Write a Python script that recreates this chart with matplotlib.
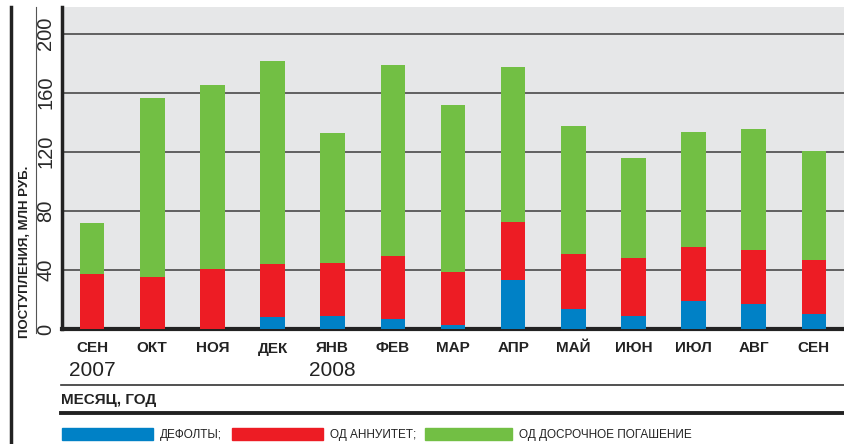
import matplotlib.pyplot as plt
from matplotlib.lines import Line2D
from matplotlib.patches import Rectangle

months = ["СЕН", "ОКТ", "НОЯ", "ДЕК", "ЯНВ", "ФЕВ", "МАР", "АПР", "МАЙ", "ИЮН", "ИЮЛ", "АВГ", "СЕН"]
years = {0: "2007", 4: "2008"}

# values, mln rub
defaults = [0, 0, 0, 8.1, 9.0, 6.8, 2.7, 33.2, 13.6, 9.0, 19.0, 17.0, 10.2]
annuity_top = [37.3, 35.3, 40.7, 44.1, 44.7, 49.5, 38.6, 72.5, 50.8, 48.1, 55.6, 53.6, 46.8]
total = [71.9, 156.6, 165.4, 181.7, 132.9, 179.0, 151.9, 177.6, 137.6, 115.9, 133.6, 135.6, 120.7]

annuity = [a - d for a, d in zip(annuity_top, defaults)]
prepay = [t - a for t, a in zip(total, annuity_top)]

labels = ["ДЕФОЛТЫ;", "ОД АННУИТЕТ;", "ОД ДОСРОЧНОЕ ПОГАШЕНИЕ"]
colors = ["#0081c6", "#ed1c24", "#72bf44"]

plt.rcParams['font.family'] = ['Liberation Sans Narrow', 'Liberation Sans', 'DejaVu Sans']

W, H = 844, 444
fig = plt.figure(figsize=(W / 100, H / 100), dpi=100)
ax = fig.add_axes([62 / W, (H - 329) / H, 1 - 62 / W, (329 - 7) / H])
ax.set_facecolor("#e6e7e8")

x = list(range(len(months)))
bw = 0.41
ax.bar(x, defaults, bw, color=colors[0], zorder=3)
ax.bar(x, annuity, bw, bottom=defaults, color=colors[1], zorder=3)
ax.bar(x, prepay, bw, bottom=annuity_top, color=colors[2], zorder=3)

ax.set_xlim(-0.5, len(months) - 0.5)
ax.set_ylim(0, 218)
ax.set_yticks([0, 40, 80, 120, 160, 200])
ax.set_yticklabels(["0", "40", "80", "120", "160", "200"], rotation=90, va="center",
                   fontsize=14.5, color="#2a2a2a")
ax.yaxis.grid(True, color="#555555", lw=1.3, zorder=1)
ax.tick_params(axis="y", length=0, pad=5)
ax.set_xticks(x)
ax.set_xticklabels(months, fontsize=11, fontweight="bold", color="#222222")
ax.tick_params(axis="x", length=0, pad=9)

for s in ["top", "right"]:
    ax.spines[s].set_visible(False)
ax.spines["left"].set_linewidth(2.5)
ax.spines["bottom"].set_linewidth(3)
ax.spines["left"].set_color("#222222")
ax.spines["bottom"].set_color("#222222")

for i, yr in years.items():
    ax.text(i, -28, yr, ha="center", va="center", fontsize=15, color="#222222",
            transform=ax.transData, clip_on=False)

fig.text(25 / W, 1 - 252 / H, "ПОСТУПЛЕНИЯ, МЛН РУБ.", rotation=90, ha="center", va="center",
         fontsize=9.5, fontweight="bold", color="#222222")

# frame lines
fig.add_artist(Line2D([11 / W, 11 / W], [0, 1 - 7 / H], color="#222222", lw=2.5))
fig.add_artist(Line2D([36 / W, 36 / W], [1 - 333 / H, 1 - 7 / H], color="#555555", lw=0.8))
fig.add_artist(Line2D([61 / W, 1], [1 - 385 / H, 1 - 385 / H], color="#333333", lw=1.2))
fig.add_artist(Line2D([61 / W, 1], [1 - 413 / H, 1 - 413 / H], color="#222222", lw=2.8))
fig.text(61 / W, 1 - 400 / H, "МЕСЯЦ, ГОД", ha="left", va="center", fontsize=11,
         fontweight="bold", color="#222222")

# legend
legend_x = [62, 232, 425]
legend_w = [91, 91, 87]
for lx, lw_, lab, c in zip(legend_x, legend_w, labels, colors):
    fig.add_artist(Rectangle((lx / W, 1 - 440 / H), lw_ / W, 12 / H, color=c,
                             transform=fig.transFigure))
    fig.text((lx + lw_ + 7) / W, 1 - 435 / H, lab, ha="left", va="center", fontsize=8.5,
             color="#222222")

fig.savefig("out.png", dpi=100)
